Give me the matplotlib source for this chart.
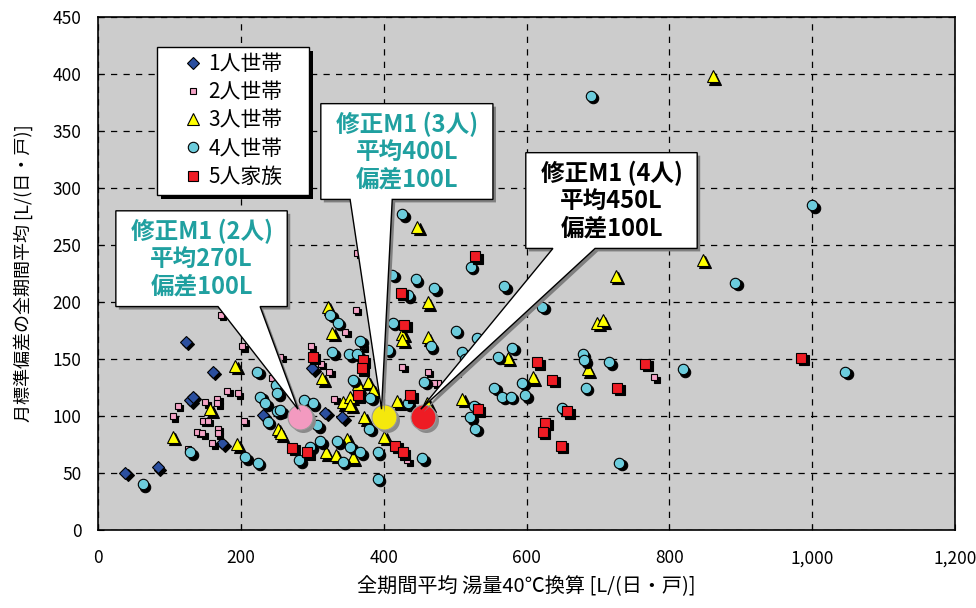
import numpy as np
import matplotlib
matplotlib.use('Agg')
import matplotlib.pyplot as plt
from matplotlib.transforms import offset_copy
from matplotlib.patches import Polygon, Rectangle
from matplotlib.ticker import FuncFormatter

plt.rcParams['font.family'] = ['Noto Sans CJK JP', 'DejaVu Sans']

# --- data ---
one_x = [38, 84, 123, 161, 129, 133, 174, 231, 300, 318, 342]
one_y = [50, 55, 165, 139, 114, 117, 76, 101, 142, 103, 99]

two_x = [172, 202, 181, 196, 112, 105, 150, 167, 167, 147, 154, 168, 139, 146, 160, 168, 204, 126,
         255, 244, 361, 346, 298, 312, 324, 331, 371, 426, 363, 462, 476, 471, 501, 433, 779]
two_y = [189, 161, 122, 120, 109, 100, 112, 115, 111, 96, 96, 89, 86, 85, 76, 85, 96, 71,
         152, 133, 193, 174, 161, 146, 139, 115, 161, 143, 243, 139, 129, 129, 139, 61, 134]

three_x = [192, 157, 105, 195, 252, 256, 447, 322, 462, 328, 426, 426, 462, 314, 364, 378, 385, 343, 353,
           353, 373, 419, 401, 349, 319, 333, 357, 510, 461, 574, 609, 725, 699, 707, 686, 861, 847]
three_y = [144, 106, 82, 75, 89, 85, 266, 196, 200, 173, 172, 167, 169, 133, 128, 130, 123, 112, 117,
           110, 99, 113, 82, 80, 68, 66, 64, 115, 111, 151, 134, 223, 182, 184, 141, 398, 237]

four_x = [223, 227, 234, 249, 251, 251, 238, 129, 206, 224, 63, 426, 445, 471, 522, 412, 434, 325, 336, 367,
          328, 352, 363, 413, 466, 501, 510, 514, 531, 357, 381, 457, 289, 301, 307, 380, 434, 521, 528, 311,
          335, 353, 367, 282, 297, 343, 392, 454, 392, 622, 560, 580, 555, 566, 578, 594, 598, 527, 569, 679,
          681, 716, 683, 650, 730, 1000, 892, 819, 1046, 690, 255, 406]
four_y = [139, 117, 111, 127, 120, 104, 95, 68, 64, 59, 40, 277, 220, 212, 231, 224, 206, 189, 182, 166,
          156, 154, 154, 182, 161, 175, 156, 150, 168, 132, 116, 130, 114, 111, 92, 89, 111, 99, 89, 78,
          78, 73, 68, 61, 73, 60, 68, 63, 45, 196, 152, 160, 125, 117, 117, 129, 118, 109, 214, 154,
          149, 147, 125, 107, 59, 285, 217, 141, 139, 381, 105, 158]

five_x = [528, 424, 429, 301, 371, 369, 364, 437, 272, 293, 416, 427, 532, 615, 636, 766, 727, 657, 626, 623, 648, 985]
five_y = [240, 208, 180, 152, 149, 142, 118, 118, 72, 68, 74, 68, 106, 147, 132, 146, 125, 104, 94, 86, 74, 151]

labels = ['1人世帯', '2人世帯', '3人世帯', '4人世帯', '5人家族']

# model points (修正M1)
model_x = [283, 400, 455]
model_y = [99, 99, 99]
model_txt = ['修正M1 (2人)\n平均270L\n偏差100L',
             '修正M1 (3人)\n平均400L\n偏差100L',
             '修正M1 (4人)\n平均450L\n偏差100L']

fig = plt.figure(figsize=(9.76, 6.08), dpi=100)
ax = fig.add_axes([0.1004, 0.1283, 0.8781, 0.8437])
ax.set_facecolor('#cccccc')

shadow = offset_copy(ax.transData, fig=fig, x=2.5, y=-2.5, units='dots')

series = [
    (one_x, one_y, 'D', 6.5, '#2b4f9f'),
    (two_x, two_y, 's', 5.0, '#f4a4c6'),
    (three_x, three_y, '^', 8.0, '#ffff00'),
    (four_x, four_y, 'o', 7.5, '#6cccdc'),
    (five_x, five_y, 's', 7.0, '#ee1c24'),
]

for i, (xs, ys, m, ms, c) in enumerate(series):
    ax.plot(xs, ys, ls='none', marker=m, ms=ms, mfc='black', mec='black', mew=0.8,
            transform=shadow, zorder=3 + i * 0.1)
    ax.plot(xs, ys, ls='none', marker=m, ms=ms, mfc=c, mec='black', mew=0.8,
            label=labels[i], zorder=3.05 + i * 0.1)

# big model markers
big_cols = ['#f39ac0', '#f5e80c', '#ee1c24']
big_shadow = offset_copy(ax.transData, fig=fig, x=3, y=-3, units='dots')
for x, y, c in zip(model_x, model_y, big_cols):
    ax.plot(x, y, ls='none', marker='o', ms=18, mfc='#8a8a8a', mec='none', transform=big_shadow, zorder=4)
    ax.plot(x, y, ls='none', marker='o', ms=18, mfc=c, mec='#9a9a9a', mew=0.8, zorder=4.1)

# callouts: box (x0, x1, y0, y1) and tail base (xl, xr), all in data units
boxes = [(25, 265, 196, 280, 168, 227),
         (312, 553, 290, 374, 353, 412),
         (599, 839, 247, 331, 637, 696)]
txt_cols = ['#20a0a0', '#20a0a0', 'black']
for (x0, x1, y0, y1, xl, xr), mx, my, t, tc in zip(boxes, model_x, model_y, model_txt, txt_cols):
    tip = (mx - 3, my + 7)
    verts = [(x0, y1), (x1, y1), (x1, y0), (xr, y0), tip, (xl, y0), (x0, y0)]
    ax.add_patch(Polygon(verts, closed=True, fc='#7f7f7f', ec='none', transform=big_shadow, zorder=5))
    ax.add_patch(Polygon(verts, closed=True, fc='white', ec='black', lw=1.0, zorder=5.1))
    ax.text((x0 + x1) / 2, (y0 + y1) / 2, t, ha='center', va='center', color=tc,
            fontsize=17, fontweight='bold', linespacing=1.18, zorder=5.2)

# axes
ax.set_xlim(0, 1200)
ax.set_ylim(0, 450)
ax.set_xticks(np.arange(0, 1201, 200))
ax.set_yticks(np.arange(0, 451, 50))
ax.xaxis.set_major_formatter(FuncFormatter(lambda v, p: f'{int(v):,}'))
ax.tick_params(direction='in', length=4, labelsize=12.5, colors='black')
ax.tick_params(axis='x', pad=14)
ax.tick_params(axis='y', pad=12)
ax.grid(True, color='black', ls=(0, (5, 5)), lw=0.9)
ax.set_axisbelow(True)
for s in ax.spines.values():
    s.set_color('black')
    s.set_linewidth(1.2)

ax.set_xlabel('全期間平均 湯量40℃換算 [L/(日・戸)]', fontsize=14.5, labelpad=6)
ax.set_ylabel('月標準偏差の全期間平均 [L/(日・戸)]', fontsize=13, labelpad=14)

# legend box drawn by hand (wider side padding than the legend frame allows)
lb = (0.0688, 0.653, 0.1774, 0.2885)
ax.add_patch(Rectangle((lb[0], lb[1]), lb[2], lb[3], transform=offset_copy(ax.transAxes, fig=fig, x=4, y=-4, units='dots'),
                       fc='black', ec='none', zorder=5.8))
ax.add_patch(Rectangle((lb[0], lb[1]), lb[2], lb[3], transform=ax.transAxes,
                       fc='white', ec='black', lw=1.0, zorder=5.9))
leg = ax.legend(loc='upper left', bbox_to_anchor=(0.0985, 0.93), borderaxespad=0, borderpad=0,
                frameon=False, fontsize=15, labelspacing=0.3, handletextpad=0.25, handlelength=1.0)
leg.set_zorder(6)

fig.savefig('out.png', dpi=100)
